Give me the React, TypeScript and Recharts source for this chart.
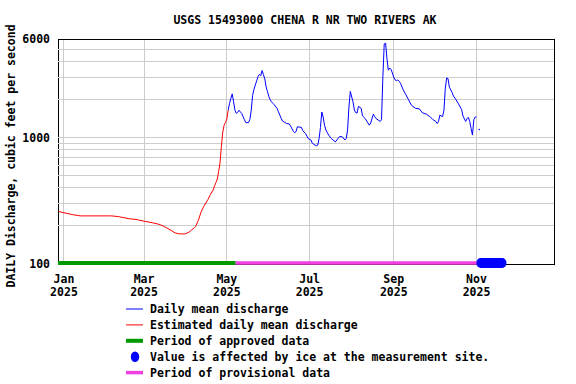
import React from 'react';
import {
  ComposedChart,
  Line,
  Scatter,
  XAxis,
  YAxis,
  CartesianGrid,
  ReferenceLine,
  ReferenceArea
} from 'recharts';

// day numbers are counted from 2025-01-01 (day 0)
const estDays = [-4, 0, 6, 12, 35, 40, 48, 54, 59, 65, 70, 73, 76, 79, 82, 85, 89, 92, 94, 96, 97, 99, 101, 103, 105, 106, 108, 110, 111, 112, 113, 114, 115, 116, 117, 118, 119, 120, 121];
const estFlow = [260, 254, 246, 240, 240, 237, 228, 224, 218, 212, 206, 200, 192, 184, 176, 173, 173, 178, 186, 193, 198, 221, 257, 285, 309, 322, 355, 386, 415, 440, 470, 540, 630, 850, 1100, 1250, 1310, 1400, 1640];

const dailyDays = [121, 122, 123, 124, 125, 126, 127, 128, 129, 130, 131, 132, 133, 134, 136, 137, 138, 139, 140, 141, 142, 143, 144, 145, 146, 147, 148, 149, 150, 151, 152, 153, 154, 155, 157, 158, 160, 161, 163, 164, 166, 167, 169, 170, 171, 172, 175, 176, 178, 179, 180, 182, 183, 185, 186, 187, 188, 189, 190, 191, 192, 193, 195, 197, 200, 203, 205, 207, 208, 209, 210, 211, 213, 214, 215, 216, 217, 219, 220, 222, 225, 226, 228, 229, 230, 233, 234, 235, 236, 237, 238, 239, 240, 241, 242, 243, 244, 245, 246, 247, 248, 250, 252, 254, 256, 259, 262, 264, 267, 270, 272, 274, 275, 276, 277, 279, 280, 281, 282, 283, 284, 286, 287, 289, 290, 292, 293, 294, 296, 297, 298, 299, 300, 301, 302, 303, 304];
const dailyFlow = [1640, 1860, 2040, 2210, 1910, 1640, 1550, 1580, 1640, 1590, 1550, 1460, 1380, 1310, 1310, 1390, 1640, 2150, 2400, 2600, 2800, 3030, 3150, 3080, 3380, 3130, 2900, 2500, 2300, 2100, 1980, 1910, 1860, 1810, 1700, 1600, 1420, 1350, 1310, 1290, 1280, 1230, 1120, 1090, 1110, 1215, 1200, 1130, 1075, 1025, 980, 955, 900, 870, 860, 870, 980, 1200, 1590, 1450, 1250, 1145, 1045, 980, 922, 1015, 1015, 955, 980, 1150, 1750, 2310, 1910, 1650, 1570, 1560, 1760, 1700, 1480, 1410, 1250, 1300, 1530, 1460, 1410, 1340, 1380, 3030, 5490, 5560, 4200, 3400, 3540, 3450, 3230, 3000, 2850, 2810, 2850, 2780, 2680, 2380, 2170, 1980, 1800, 1700, 1680, 1570, 1530, 1450, 1380, 1340, 1290, 1340, 1500, 1460, 1640, 2450, 2950, 2920, 2500, 2270, 2130, 1980, 1900, 1740, 1665, 1480, 1340, 1410, 1440, 1340, 1180, 1045, 1380, 1450, 1450];

const loneDays = [306];
const loneFlow = [1157];

const iceDays = [307, 308, 309, 310, 311, 312, 313, 314, 315, 316, 317, 318, 319, 320, 321, 322, 323];
const periodLevel = 102;
const approvedSpan = [-4.4, 126.5];
const provisionalSpan = [126.5, 324];

const dayDomain = [-4.4, 361.1];
const monthTicks = [0, 59, 120, 181, 243, 304];
const monthLabels = ['Jan', 'Mar', 'May', 'Jul', 'Sep', 'Nov'];
const tickYear = '2025';
const flowTicks = [100, 1000, 6000];
const gridFlows = [200, 300, 400, 500, 600, 700, 800, 900, 1000, 2000, 3000, 4000, 5000];

const legendNames = [
  'Daily mean discharge',
  'Estimated daily mean discharge',
  'Period of approved data',
  'Value is affected by ice at the measurement site.',
  'Period of provisional data'
];

const FONT = '"DejaVu Sans Mono", monospace';
const BLUE = '#0000ff';
const RED = '#ff0000';
const GREEN = '#009a00';
const PINK = '#f040e0';
const GRID = '#cccccc';

const estData = estDays.map((d, i) => ({ day: d, flow: estFlow[i] }));
const dailyData = dailyDays.map((d, i) => ({ day: d, flow: dailyFlow[i] }));
const loneData = loneDays.map((d, i) => ({ day: d, flow: loneFlow[i] }));
const iceData = iceDays.map(d => ({ day: d, flow: periodLevel }));
const approvedData = approvedSpan.map(d => ({ day: d, flow: periodLevel }));
const provisionalData = provisionalSpan.map(d => ({ day: d, flow: periodLevel }));

const MonthTick = ({ x, y, payload }: any) => {
  const i = monthTicks.indexOf(payload.value);
  return (
    <text x={x} y={y} textAnchor="middle" fontFamily={FONT} fontWeight="bold" fontSize={11.5} fill="#000">
      <tspan x={x} dy={11}>{monthLabels[i]}</tspan>
      <tspan x={x} dy={13}>{tickYear}</tspan>
    </text>
  );
};

const IceDot = ({ cx, cy }: any) => (
  <ellipse cx={cx} cy={cy} rx={4.2} ry={5} fill={BLUE} />
);

export default function App() {
  return (
    <div style={{ position: 'absolute', left: 0, top: 0, width: 576, height: 384, background: '#fff' }}>
      <ComposedChart width={576} height={384} margin={{ top: 39, right: 22, bottom: 90, left: 0 }}>
        <CartesianGrid horizontal={false} stroke={GRID} shapeRendering="crispEdges" />
        <XAxis
          dataKey="day"
          type="number"
          domain={dayDomain}
          ticks={monthTicks}
          tick={<MonthTick />}
          tickLine={false}
          axisLine={false}
          height={30}
        />
        <YAxis
          dataKey="flow"
          type="number"
          scale="log"
          domain={[100, 6000]}
          ticks={flowTicks}
          tickLine={false}
          axisLine={false}
          width={58}
          tick={{ fontFamily: FONT, fontWeight: 'bold', fontSize: 11.5, fill: '#000' }}
        />
        {gridFlows.map(v => (
          <ReferenceLine key={v} y={v} stroke={GRID} strokeWidth={1} shapeRendering="crispEdges" />
        ))}
        <ReferenceArea
          x1={dayDomain[0]}
          x2={dayDomain[1]}
          y1={100}
          y2={6000}
          fill="none"
          fillOpacity={0}
          stroke="#000"
          strokeWidth={1}
          shapeRendering="crispEdges"
        />
        <Line data={estData} dataKey="flow" stroke={RED} strokeWidth={1} dot={false} isAnimationActive={false} type="linear" />
        <Line data={dailyData} dataKey="flow" stroke={BLUE} strokeWidth={1} dot={false} isAnimationActive={false} type="linear" />
        <Line data={loneData} dataKey="flow" stroke={BLUE} dot={{ r: 0.8, fill: BLUE, stroke: 'none' }} isAnimationActive={false} />
        <Line data={approvedData} dataKey="flow" stroke={GREEN} strokeWidth={4} dot={false} isAnimationActive={false} />
        <Scatter data={iceData} dataKey="flow" shape={<IceDot />} isAnimationActive={false} />
        <Line data={provisionalData} dataKey="flow" stroke={PINK} strokeWidth={3.5} dot={false} isAnimationActive={false} />
      </ComposedChart>
      <svg width={576} height={384} style={{ position: 'absolute', left: 0, top: 0, pointerEvents: 'none' }}>
        <text x={305} y={24} textAnchor="middle" fontFamily={FONT} fontWeight="bold" fontSize={11.5}>
          USGS 15493000 CHENA R NR TWO RIVERS AK
        </text>
        <text
          transform="translate(15,156) rotate(-90)"
          textAnchor="middle"
          fontFamily={FONT}
          fontWeight="bold"
          fontSize={11.5}
        >
          DAILY Discharge, cubic feet per second
        </text>
        {legendNames.map((name, i) => {
          const cy = 309 + i * 15.9;
          let sym;
          if (i === 0) sym = <line x1={126} x2={143} y1={cy} y2={cy} stroke={BLUE} strokeWidth={1} />;
          else if (i === 1) sym = <line x1={126} x2={143} y1={cy} y2={cy} stroke={RED} strokeWidth={1} />;
          else if (i === 2) sym = <line x1={126} x2={143} y1={cy} y2={cy} stroke={GREEN} strokeWidth={4} />;
          else if (i === 3) sym = <ellipse cx={135} cy={cy} rx={4.2} ry={5.3} fill={BLUE} />;
          else sym = <line x1={126} x2={143} y1={cy} y2={cy} stroke={PINK} strokeWidth={3.5} />;
          return (
            <g key={name}>
              {sym}
              <text x={150} y={cy + 4.2} fontFamily={FONT} fontWeight="bold" fontSize={11.5}>
                {name}
              </text>
            </g>
          );
        })}
      </svg>
    </div>
  );
}
